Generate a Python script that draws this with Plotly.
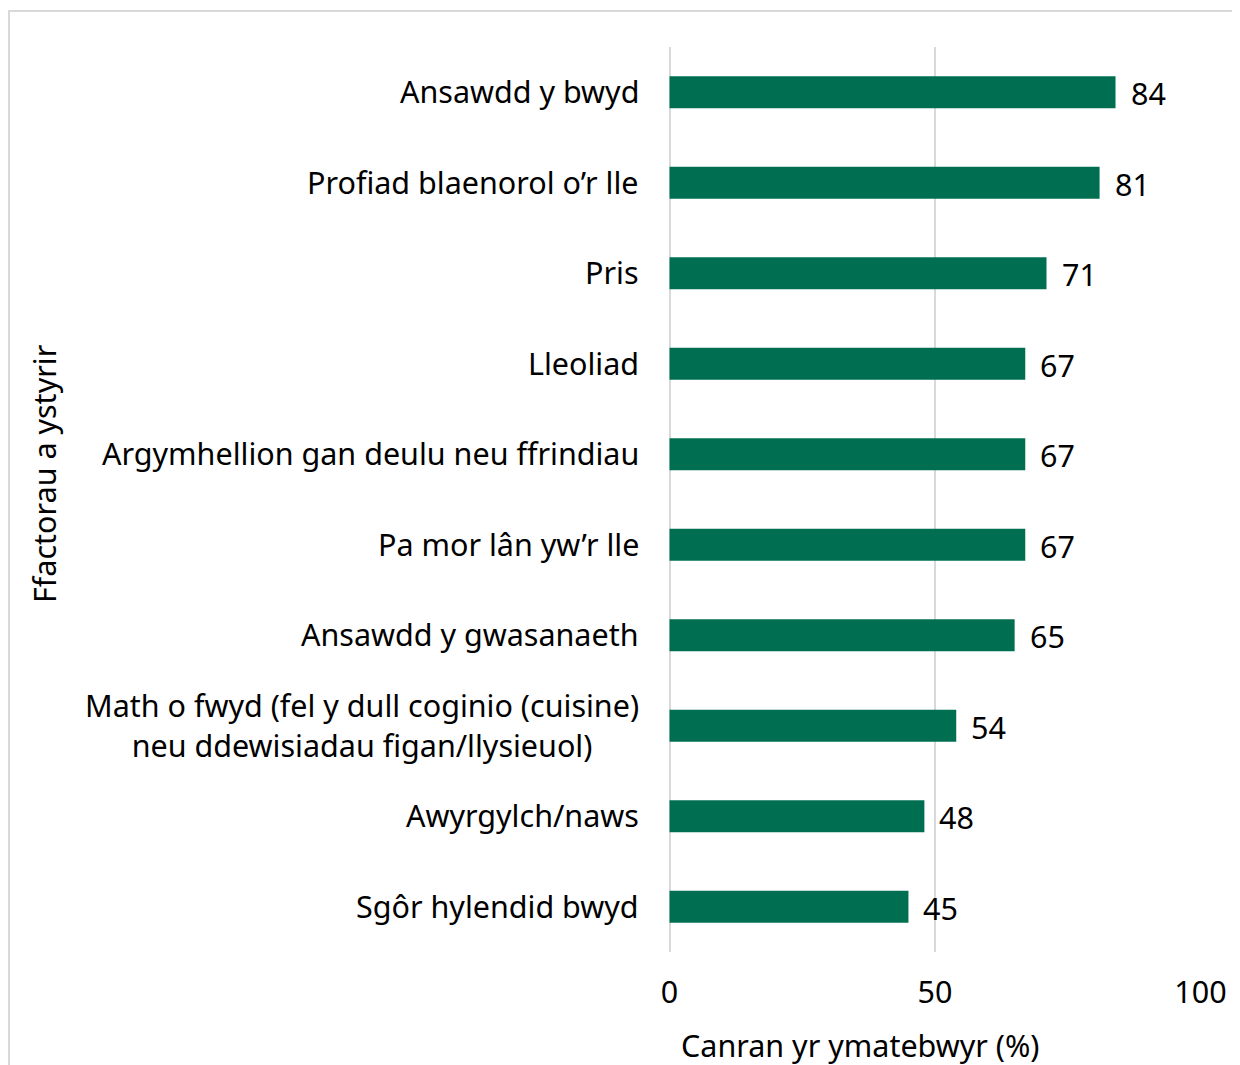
import plotly.graph_objects as go

categories = [
    "Ansawdd y bwyd",
    "Profiad blaenorol o’r lle",
    "Pris",
    "Lleoliad",
    "Argymhellion gan deulu neu ffrindiau",
    "Pa mor lân yw’r lle",
    "Ansawdd y gwasanaeth",
    "Math o fwyd (fel y dull coginio (cuisine)<br>neu ddewisiadau figan/llysieuol)",
    "Awyrgylch/naws",
    "Sgôr hylendid bwyd",
]
values = [84, 81, 71, 67, 67, 67, 65, 54, 48, 45]
x_ticks = [0, 50, 100]
x_title = "Canran yr ymatebwyr (%)"
y_title = "Ffactorau a ystyrir"

FONT = "Noto Sans"
FS = 30.5
COLOR = "#006F51"
OFF = 8  # page body margin
W, H = 1240 - OFF, 1065 - OFF
ML, MR, MT, MB = 661, 39, 47 - OFF, 113
PW, PH = W - ML - MR, H - MT - MB

def px_x(p):
    return (p - OFF - ML) / PW

def px_y(p):
    return (H - MB - (p - OFF)) / PH

fig = go.Figure()
fig.add_trace(go.Bar(
    x=values, y=categories, orientation="h",
    marker=dict(color=COLOR, line=dict(width=0)),
    width=0.354, hoverinfo="skip",
))

annotations = []
for c, v in zip(categories, values):
    annotations.append(dict(
        x=v, y=c, xref="x", yref="y", text=str(v), showarrow=False,
        xanchor="left", yanchor="middle", xshift=13, yshift=-1,
        font=dict(family=FONT, size=FS, color="#000000"),
    ))
    annotations.append(dict(
        x=0, y=c, xref="paper", yref="y", text=c, showarrow=False,
        xanchor="right", yanchor="middle", xshift=-28, yshift=1, align="center",
        font=dict(family=FONT, size=FS, color="#000000"),
    ))
annotations.append(dict(
    x=px_x(860), y=px_y(1045), xref="paper", yref="paper", text=x_title,
    showarrow=False, xanchor="center", yanchor="middle",
    font=dict(family=FONT, size=FS, color="#000000"),
))
annotations.append(dict(
    x=px_x(44), y=px_y(474), xref="paper", yref="paper", text=y_title,
    showarrow=False, xanchor="center", yanchor="middle", textangle=-90,
    font=dict(family=FONT, size=FS, color="#000000"),
))

fig.update_layout(
    width=W, height=H,
    margin=dict(l=ML, r=MR, t=MT, b=MB, pad=0),
    paper_bgcolor="white", plot_bgcolor="white",
    showlegend=False,
    annotations=annotations,
    font=dict(family=FONT, size=FS, color="#000000"),
    shapes=[dict(
        type="rect", xref="paper", yref="paper",
        x0=px_x(9), x1=px_x(1260), y0=px_y(1080), y1=px_y(11),
        line=dict(color="#D9D9D9", width=2), fillcolor="rgba(0,0,0,0)",
        layer="below",
    )],
)
fig.update_xaxes(
    range=[-0.1, 100.1], tickvals=x_ticks, ticktext=[str(t) for t in x_ticks],
    showgrid=True, gridcolor="#D9D9D9", gridwidth=1.5,
    zeroline=True, zerolinecolor="#D9D9D9", zerolinewidth=1.5,
    showline=False, ticks="", ticklabelstandoff=19,
    tickfont=dict(family=FONT, size=FS, color="#000000"),
    fixedrange=True,
)
fig.update_yaxes(
    categoryorder="array", categoryarray=categories[::-1],
    showticklabels=False, showgrid=False, zeroline=False, showline=False,
    ticks="", range=[-0.5, len(categories) - 0.5], fixedrange=True,
)

fig.write_html("out.html", config={"displayModeBar": False})
